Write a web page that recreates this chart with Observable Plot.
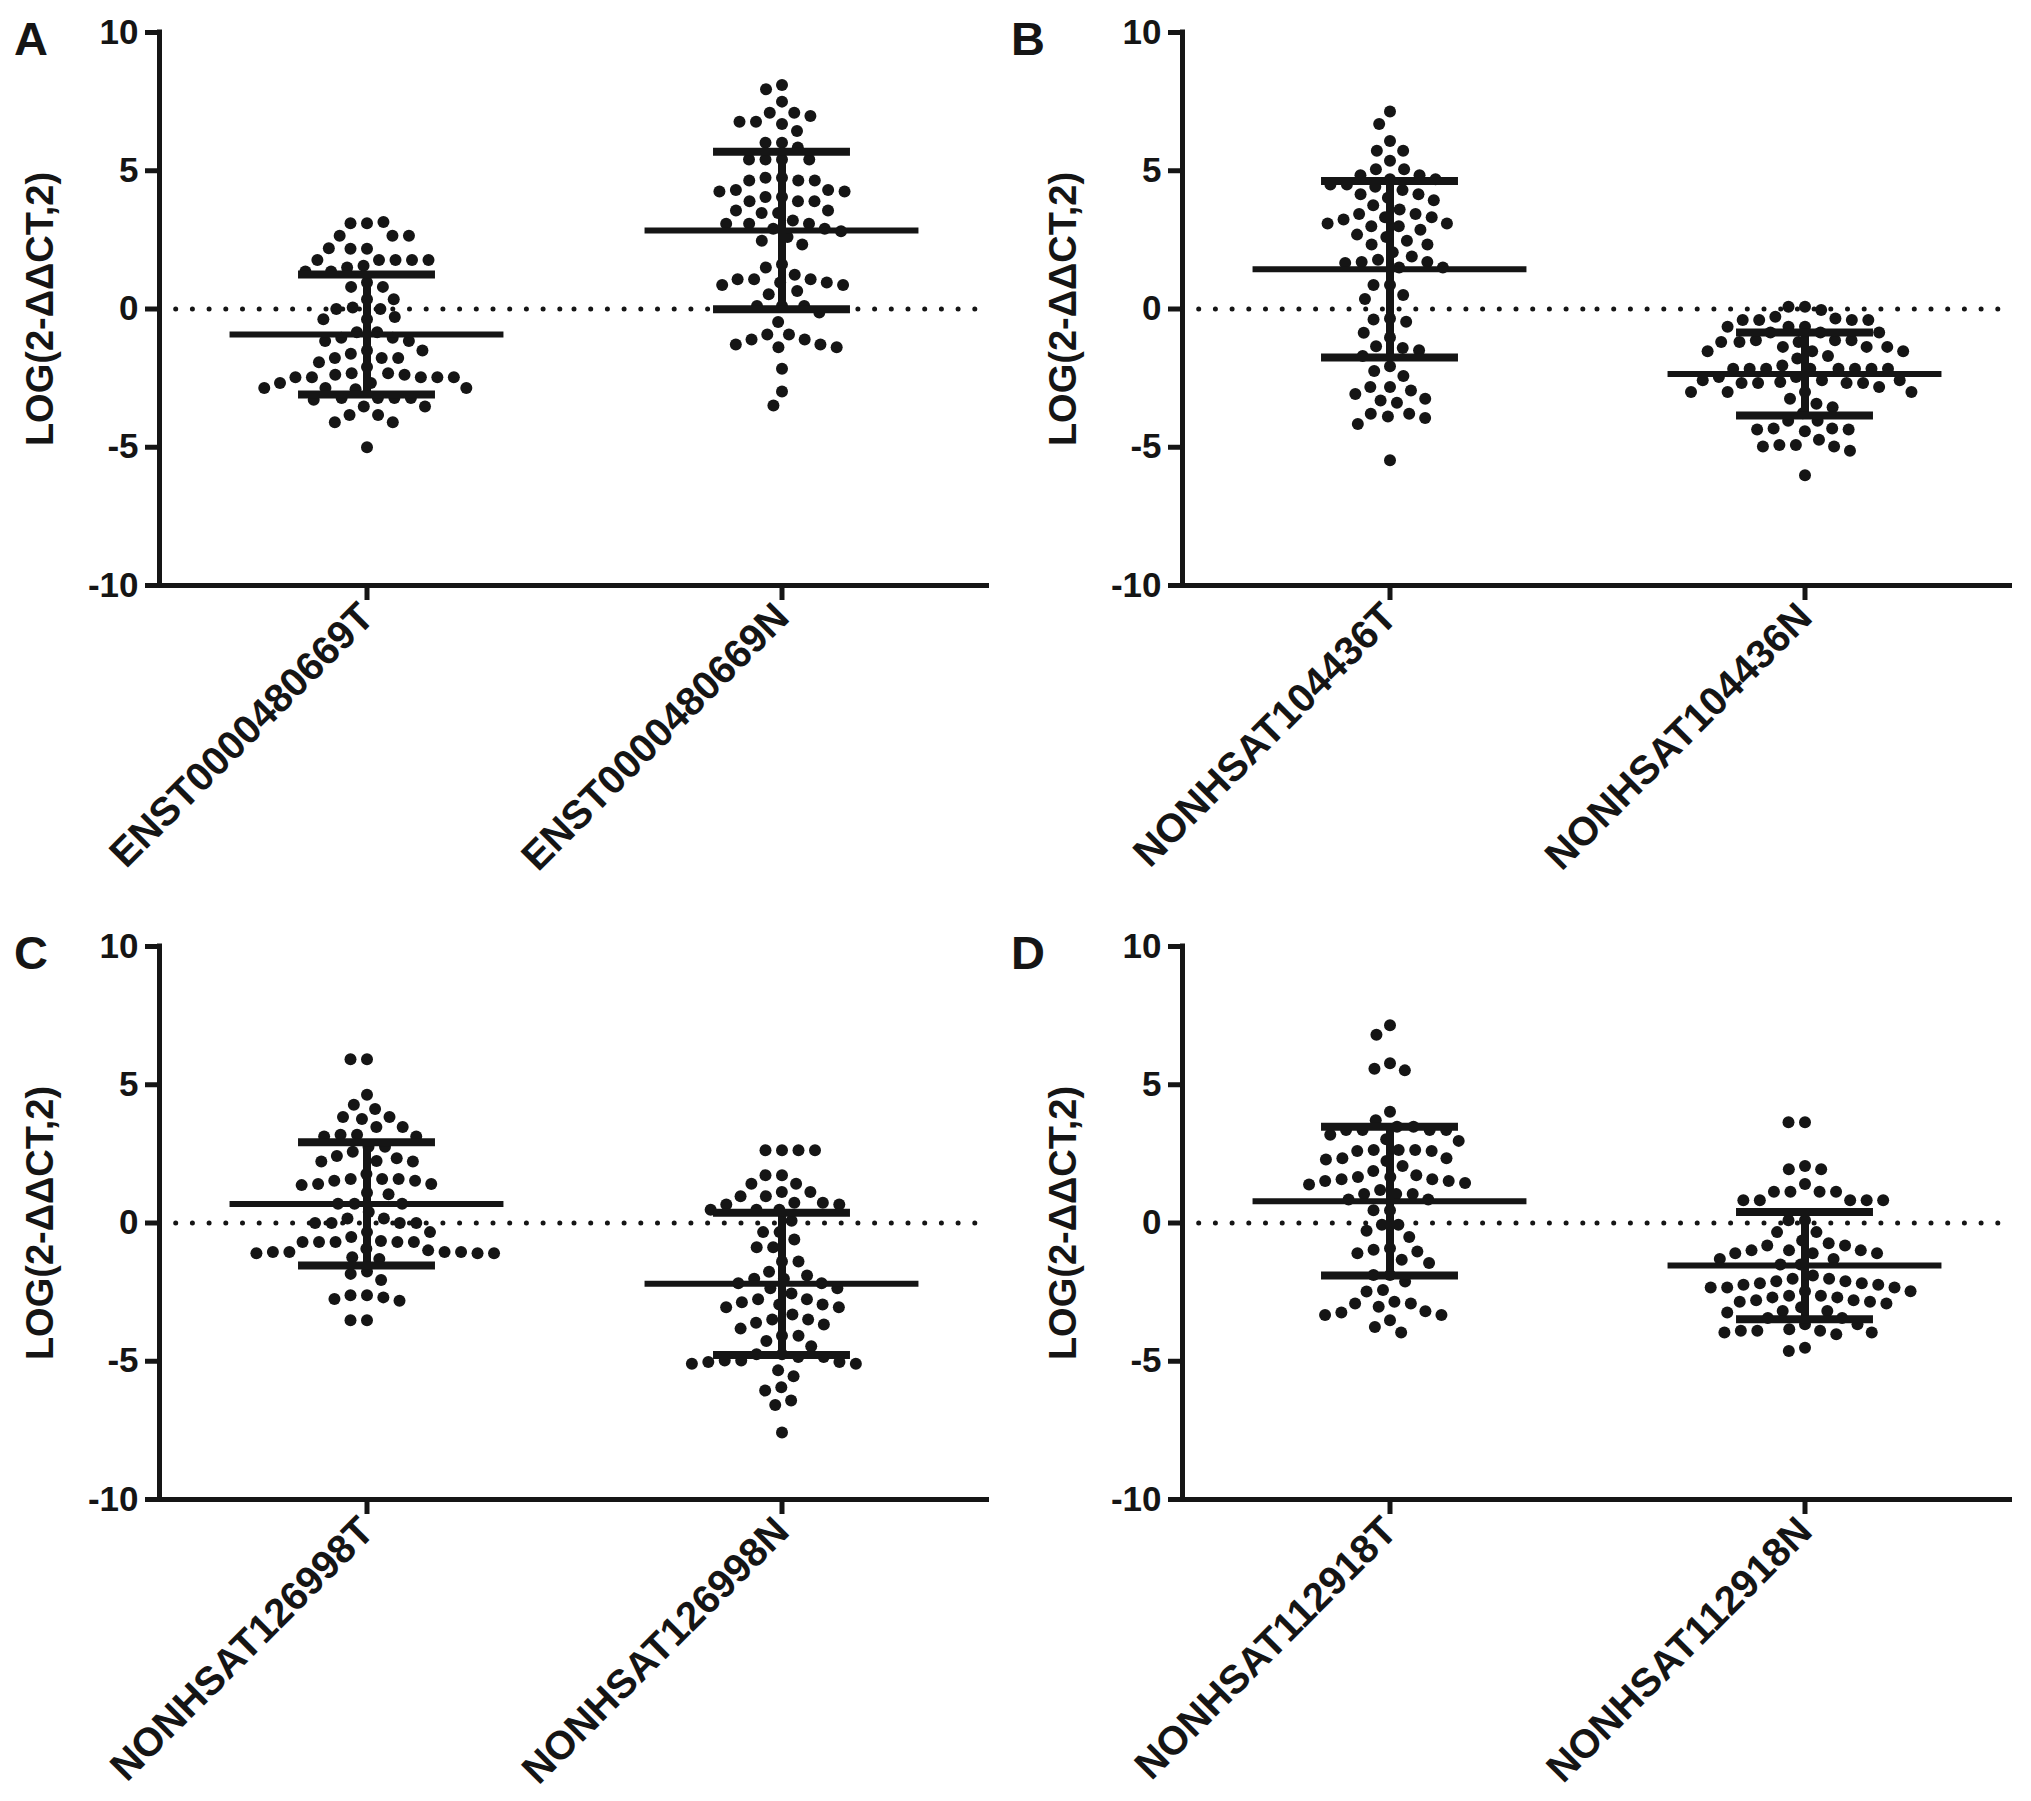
<!DOCTYPE html>
<html>
<head>
<meta charset="utf-8">
<script src="https://cdn.jsdelivr.net/npm/d3@7"></script>
<script src="https://cdn.jsdelivr.net/npm/@observablehq/plot@0.6"></script>
<style>
  body { margin: 0; background: #fff; }
  #fig { position: relative; width: 2031px; height: 1801px; background: #fff;
         font-family: "Liberation Sans", Arial, sans-serif; font-weight: bold; color: #151515; }
  .panel { position: absolute; }
  .letter { position: absolute; font-size: 47px; line-height: 1; font-weight: bold; }
</style>
</head>
<body>
<div id="fig"></div>
<script>
// ---------- data ----------
const yLabel = "LOG(2-ΔΔCT,2)";
const yTicks = [-10, -5, 0, 5, 10];

const labelsA = ["ENST0000480669T", "ENST0000480669N"];
const tumorA = [3.1, 3.1, 3.15, 2.65, 2.65, 2.65, 2.18, 2.18, 2.2, 1.77, 1.77, 1.77, 1.77, 1.77, 1.56, 1.5, 1.36, 1.36, 0.96, 0.8, 0.8, 0.35, 0.35, 0.05, 0.0, 0.0, -0.29, -0.37, -0.37, -0.84, -0.84, -1.04, -1.04, -1.16, -1.16, -1.5, -1.5, -1.62, -1.77, -1.77, -1.77, -1.93, -2.1, -2.32, -2.32, -2.38, -2.38, -2.47, -2.47, -2.47, -2.47, -2.47, -2.68, -2.68, -2.86, -2.86, -2.86, -2.9, -3.22, -3.22, -3.22, -3.22, -3.28, -3.53, -3.53, -3.83, -3.83, -4.1, -4.1, -5.0];
const normalA = [8.1, 7.95, 7.5, 7.1, 7.1, 6.98, 6.77, 6.77, 6.69, 6.44, 6.01, 6.01, 5.84, 5.41, 5.41, 5.41, 5.41, 4.75, 4.75, 4.65, 4.65, 4.65, 4.3, 4.3, 4.25, 4.25, 4.05, 4.05, 3.9, 3.9, 3.9, 3.56, 3.56, 3.47, 3.47, 3.2, 3.08, 3.08, 3.08, 2.9, 2.9, 2.81, 2.6, 2.47, 2.33, 1.62, 1.5, 1.24, 1.08, 1.08, 1.08, 0.96, 0.96, 0.87, 0.87, 0.65, 0.53, 0.11, 0.11, 0.11, -0.13, -0.47, -0.92, -0.92, -1.1, -1.1, -1.28, -1.28, -1.38, -1.38, -2.16, -2.98, -3.49];
const meanA = [-0.92, 2.84];
const sdA = [2.17, 2.85];

const labelsB = ["NONHSAT104436T", "NONHSAT104436N"];
const tumorB = [7.14, 6.69, 6.08, 5.72, 5.72, 5.36, 5.05, 5.05, 4.84, 4.84, 4.69, 4.69, 4.5, 4.5, 4.42, 4.3, 4.15, 4.15, 4.02, 3.93, 3.75, 3.6, 3.44, 3.44, 3.32, 3.32, 3.24, 3.09, 3.09, 2.99, 2.99, 2.87, 2.69, 2.6, 2.47, 2.33, 2.33, 2.05, 1.9, 1.78, 1.7, 1.7, 1.66, 1.5, 1.5, 0.87, 0.87, 0.51, 0.36, -0.34, -0.38, -0.46, -0.86, -1.03, -1.35, -1.41, -1.49, -1.7, -2.07, -2.24, -2.42, -2.82, -2.82, -2.95, -3.07, -3.25, -3.31, -3.39, -3.79, -3.79, -3.89, -3.94, -4.16, -5.47];
const normalB = [0.08, 0.08, -0.04, -0.28, -0.34, -0.4, -0.4, -0.4, -0.4, -0.64, -0.64, -0.64, -0.85, -0.85, -0.85, -1.13, -1.13, -1.13, -1.19, -1.19, -1.19, -1.37, -1.37, -1.37, -1.53, -1.53, -1.53, -1.7, -1.79, -2.04, -2.16, -2.16, -2.16, -2.16, -2.16, -2.16, -2.16, -2.16, -2.46, -2.46, -2.58, -2.58, -2.58, -2.64, -2.68, -2.68, -2.68, -2.68, -2.82, -3.0, -3.0, -3.0, -3.0, -3.25, -3.43, -3.55, -3.77, -4.04, -4.04, -4.32, -4.32, -4.36, -4.36, -4.42, -4.73, -4.92, -4.92, -4.97, -4.97, -5.13, -6.01];
const meanB = [1.44, -2.35];
const sdB = [3.19, 1.5];

const labelsC = ["NONHSAT126998T", "NONHSAT126998N"];
const tumorC = [5.92, 5.92, 4.64, 4.28, 4.12, 3.83, 3.83, 3.76, 3.47, 3.47, 3.19, 3.19, 3.13, 3.13, 2.76, 2.76, 2.58, 2.42, 2.34, 2.24, 2.22, 2.22, 1.77, 1.59, 1.59, 1.59, 1.53, 1.53, 1.41, 1.41, 1.37, 1.09, 1.04, 0.7, 0.7, 0.7, 0.4, 0.16, 0.16, 0.0, 0.0, 0.0, 0.0, -0.33, -0.33, -0.51, -0.65, -0.69, -0.69, -0.69, -0.69, -0.69, -0.93, -0.99, -1.05, -1.05, -1.05, -1.05, -1.09, -1.09, -1.09, -1.24, -1.3, -1.75, -1.84, -2.06, -2.61, -2.61, -2.69, -2.75, -2.81, -3.52, -3.52];
const normalC = [2.63, 2.63, 2.63, 2.63, 1.73, 1.73, 1.42, 1.42, 1.12, 1.12, 0.97, 0.97, 0.73, 0.73, 0.67, 0.67, 0.48, 0.48, 0.48, 0.08, -0.33, -0.33, -0.6, -0.88, -0.88, -1.39, -1.39, -1.76, -1.9, -2.02, -2.02, -2.18, -2.18, -2.36, -2.36, -2.55, -2.76, -2.76, -2.87, -2.95, -2.95, -3.05, -3.05, -3.31, -3.49, -3.49, -3.61, -3.67, -3.82, -4.08, -4.08, -4.27, -4.46, -4.75, -4.75, -4.85, -4.85, -4.97, -4.97, -5.03, -5.03, -5.09, -5.09, -5.33, -5.54, -5.94, -6.06, -6.42, -6.58, -7.58];
const meanC = [0.69, -2.2];
const sdC = [2.23, 2.57];

const labelsD = ["NONHSAT112918T", "NONHSAT112918N"];
const tumorD = [7.15, 6.81, 5.78, 5.58, 5.52, 4.02, 3.72, 3.48, 3.48, 3.36, 3.36, 3.36, 3.36, 3.19, 3.03, 2.97, 2.64, 2.64, 2.64, 2.6, 2.6, 2.34, 2.34, 2.3, 2.24, 2.06, 1.88, 1.73, 1.66, 1.66, 1.58, 1.58, 1.52, 1.52, 1.45, 1.39, 1.19, 1.05, 1.05, 1.05, 0.85, 0.85, 0.46, 0.46, -0.06, -0.06, -0.28, -0.51, -0.91, -0.97, -1.03, -1.09, -1.33, -1.45, -1.88, -1.88, -2.12, -2.42, -2.48, -2.85, -2.91, -2.91, -3.03, -3.19, -3.24, -3.33, -3.33, -3.52, -3.76, -3.96];
const normalD = [3.64, 3.64, 2.06, 1.94, 1.94, 1.41, 1.13, 1.13, 1.13, 1.13, 0.82, 0.82, 0.82, 0.82, 0.82, 0.1, 0.1, -0.33, -0.33, -0.63, -0.73, -0.81, -0.81, -0.99, -0.99, -0.99, -1.09, -1.09, -1.09, -1.3, -1.3, -1.5, -1.5, -1.9, -2.02, -2.02, -2.11, -2.11, -2.18, -2.18, -2.23, -2.23, -2.33, -2.33, -2.33, -2.47, -2.47, -2.63, -2.63, -2.69, -2.69, -2.79, -2.79, -2.85, -2.85, -2.91, -3.05, -3.18, -3.18, -3.24, -3.44, -3.44, -3.66, -3.66, -3.84, -3.9, -3.9, -3.9, -3.96, -3.96, -4.02, -4.51, -4.63];
const meanD = [0.79, -1.54];
const sdD = [2.69, 1.94];

// ---------- drawing ----------
const INK = "#151515";
const W = 1008, H = 887;

function panel(labels, tumor, normal, means, sds) {
  const data = [
    ...tumor.map(v => ({cat: labels[0], v})),
    ...normal.map(v => ({cat: labels[1], v}))
  ];
  const stats = labels.map((c, i) => ({cat: c, mean: means[i], sd: sds[i]}));
  const first = () => labels[0];
  return Plot.plot({
    width: W, height: H,
    marginLeft: 159, marginRight: 19, marginTop: 32, marginBottom: H - 585,
    fx: {domain: labels, padding: 0, label: null},
    x: {domain: [-1, 1], axis: null},
    y: {domain: [-10, 10], axis: null},
    style: {fontFamily: "'Liberation Sans', Arial, sans-serif", fontWeight: "bold",
            color: INK, background: "white", overflow: "visible"},
    marks: [
      Plot.ruleY([0], {stroke: INK, strokeWidth: 5, strokeDasharray: "0 16.7", strokeLinecap: "round"}),
      Plot.dot(data, Plot.dodgeX({anchor: "middle", padding: 4.5},
        {fx: "cat", y: "v", r: 6, fill: INK, stroke: "none"})),
      Plot.ruleY(stats, {fx: "cat", y: "mean", x1: -0.66, x2: 0.66, stroke: INK, strokeWidth: 6}),
      Plot.ruleX(stats, {fx: "cat", x: 0, y1: d => d.mean - d.sd, y2: d => d.mean + d.sd, stroke: INK, strokeWidth: 8}),
      Plot.ruleY(stats, {fx: "cat", y: d => d.mean + d.sd, x1: -0.33, x2: 0.33, stroke: INK, strokeWidth: 8}),
      Plot.ruleY(stats, {fx: "cat", y: d => d.mean - d.sd, x1: -0.33, x2: 0.33, stroke: INK, strokeWidth: 8}),
      Plot.ruleY([-10], {stroke: INK, strokeWidth: 5}),
      Plot.ruleX([0], {fx: first, x: -1, y1: -10, y2: 10, stroke: INK, strokeWidth: 5, strokeLinecap: "square"}),
      Plot.axisY({ticks: yTicks, tickFormat: d => String(d), tickSize: 14, tickPadding: 7,
                  strokeWidth: 5, fontSize: 35, label: null, color: INK}),
      Plot.axisFx({anchor: "bottom", tickSize: 15, tickPadding: 10, tickRotate: -45,
                   strokeWidth: 5, fontSize: 40, label: null, color: INK}),
      Plot.text([yLabel], {fx: first, frameAnchor: "left", rotate: -90, textAnchor: "middle",
                           lineAnchor: "bottom", dx: -107, fontSize: 38, fill: INK})
    ]
  });
}

const fig = document.getElementById("fig");
const layout = [
  {L: "A", left: 0,    top: 0,   args: [labelsA, tumorA, normalA, meanA, sdA]},
  {L: "B", left: 1023, top: 0,   args: [labelsB, tumorB, normalB, meanB, sdB]},
  {L: "C", left: 0,    top: 914, args: [labelsC, tumorC, normalC, meanC, sdC]},
  {L: "D", left: 1023, top: 914, args: [labelsD, tumorD, normalD, meanD, sdD]}
];
for (const p of layout) {
  const wrap = document.createElement("div");
  wrap.className = "panel";
  wrap.style.left = p.left + "px";
  wrap.style.top = p.top + "px";
  wrap.appendChild(panel(...p.args));
  fig.appendChild(wrap);
  const letter = document.createElement("div");
  letter.className = "letter";
  letter.textContent = p.L;
  letter.style.left = (p.left + (p.left ? -12 : 14)) + "px";
  letter.style.top = (p.top + 15) + "px";
  fig.appendChild(letter);
}
</script>
</body>
</html>
